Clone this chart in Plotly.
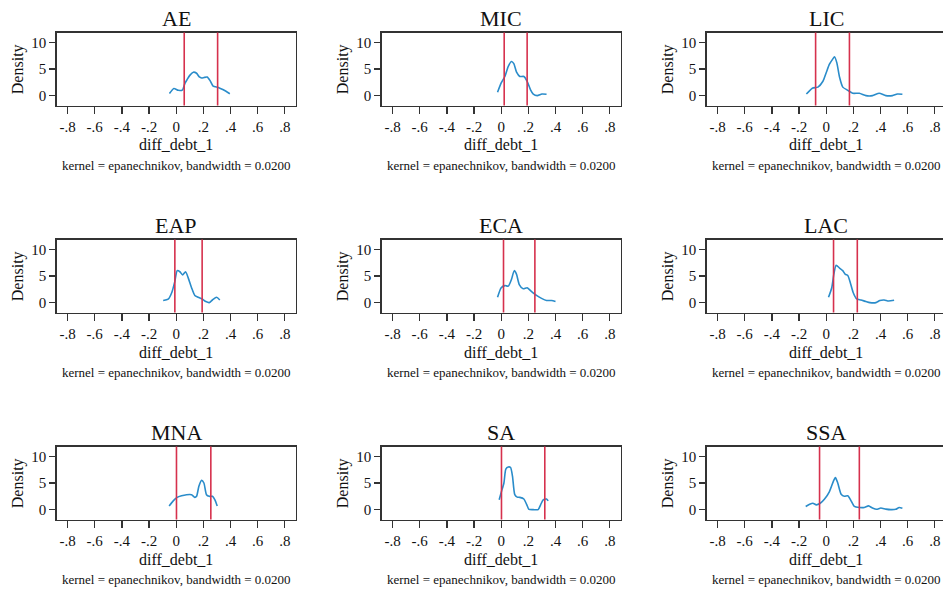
import plotly.graph_objects as go

# ---------------- data ----------------
regions = ["AE", "MIC", "LIC", "EAP", "ECA", "LAC", "MNA", "SA", "SSA"]

ae_x = [-0.050, -0.017, 0.015, 0.047, 0.064, 0.080, 0.100, 0.126, 0.150, 0.170, 0.187, 0.205, 0.228, 0.250, 0.272, 0.310, 0.347, 0.395]
ae_y = [0.40, 1.35, 1.00, 1.10, 2.30, 3.00, 3.80, 4.40, 4.20, 3.50, 3.30, 3.40, 3.50, 2.80, 1.80, 1.55, 1.10, 0.35]

mic_x = [-0.027, 0.000, 0.027, 0.052, 0.076, 0.093, 0.113, 0.137, 0.167, 0.191, 0.216, 0.236, 0.265, 0.300, 0.334]
mic_y = [0.64, 2.40, 3.60, 5.50, 6.40, 6.00, 4.40, 3.60, 3.60, 2.70, 1.10, 0.30, 0.00, 0.30, 0.25]

lic_x = [-0.146, -0.102, -0.061, -0.024, 0.000, 0.024, 0.049, 0.061, 0.078, 0.098, 0.122, 0.159, 0.195, 0.244, 0.293, 0.341, 0.390, 0.439, 0.488, 0.524, 0.561]
lic_y = [0.30, 1.40, 1.60, 2.70, 4.30, 5.90, 6.90, 7.30, 6.20, 3.50, 1.60, 1.00, 0.45, 0.45, 0.00, 0.00, 0.45, 0.00, 0.00, 0.30, 0.25]

eap_x = [-0.096, -0.059, -0.034, -0.010, 0.007, 0.027, 0.047, 0.069, 0.088, 0.113, 0.137, 0.162, 0.194, 0.218, 0.243, 0.267, 0.297, 0.321]
eap_y = [0.40, 0.64, 1.80, 4.00, 6.00, 5.80, 5.20, 5.80, 4.70, 2.80, 1.35, 1.00, 0.64, 0.20, 0.00, 0.50, 1.00, 0.50]

eca_x = [-0.027, 0.000, 0.027, 0.052, 0.076, 0.096, 0.113, 0.133, 0.162, 0.191, 0.223, 0.260, 0.297, 0.334, 0.371, 0.400]
eca_y = [1.00, 2.80, 3.20, 3.10, 4.40, 6.00, 5.30, 3.40, 2.60, 2.80, 2.10, 1.35, 0.80, 0.40, 0.40, 0.20]

lac_x = [0.017, 0.041, 0.056, 0.073, 0.098, 0.122, 0.141, 0.159, 0.178, 0.200, 0.224, 0.256, 0.293, 0.322, 0.366, 0.395, 0.427, 0.459, 0.500]
lac_y = [1.00, 2.80, 5.30, 7.00, 6.50, 6.00, 5.30, 5.10, 3.70, 1.80, 0.70, 0.50, 0.20, 0.00, 0.00, 0.40, 0.50, 0.30, 0.45]

mna_x = [-0.052, -0.022, 0.007, 0.039, 0.076, 0.113, 0.137, 0.150, 0.167, 0.187, 0.204, 0.223, 0.243, 0.267, 0.285, 0.302]
mna_y = [0.70, 1.65, 2.30, 2.60, 2.80, 2.80, 2.30, 2.50, 4.40, 5.50, 5.00, 2.80, 2.50, 2.50, 1.85, 0.70]

sa_x = [-0.015, 0.002, 0.020, 0.034, 0.052, 0.069, 0.083, 0.100, 0.118, 0.137, 0.167, 0.187, 0.204, 0.236, 0.272, 0.290, 0.309, 0.334, 0.346]
sa_y = [1.85, 3.40, 5.00, 7.60, 8.00, 7.90, 6.30, 2.80, 2.35, 2.30, 2.00, 1.00, 0.06, 0.00, 0.00, 0.90, 1.85, 2.00, 1.65]

ssa_x = [-0.151, -0.122, -0.098, -0.073, -0.044, -0.012, 0.024, 0.054, 0.068, 0.085, 0.110, 0.134, 0.159, 0.183, 0.207, 0.244, 0.280, 0.312, 0.341, 0.371, 0.402, 0.439, 0.476, 0.512, 0.537, 0.561]
ssa_y = [0.60, 1.00, 1.20, 0.90, 1.20, 2.00, 3.40, 5.40, 6.00, 5.00, 2.90, 2.50, 2.60, 1.65, 0.60, 0.40, 0.40, 0.70, 0.30, 0.06, 0.30, 0.10, 0.00, 0.06, 0.40, 0.25]

series_x = [ae_x, mic_x, lic_x, eap_x, eca_x, lac_x, mna_x, sa_x, ssa_x]
series_y = [ae_y, mic_y, lic_y, eap_y, eca_y, lac_y, mna_y, sa_y, ssa_y]

lower_lines = [0.059, 0.022, -0.078, -0.010, 0.017, 0.054, 0.002, 0.002, -0.049]
upper_lines = [0.305, 0.191, 0.171, 0.191, 0.248, 0.229, 0.255, 0.321, 0.244]

x_tick_vals = [-0.8, -0.6, -0.4, -0.2, 0, 0.2, 0.4, 0.6, 0.8]
x_tick_labels = ["-.8", "-.6", "-.4", "-.2", "0", ".2", ".4", ".6", ".8"]
y_tick_vals = [0, 5, 10]
y_tick_labels = ["0", "5", "10"]

x_title = "diff_debt_1"
y_title = "Density"
note_text = "kernel = epanechnikov, bandwidth = 0.0200"

# ---------------- layout ----------------
W, H = 943, 592
FONT = "Liberation Serif"
BLUE = "#2a8cca"
RED = "#d6314d"
AXC = "#333333"

col_px = [(56.7, 295.7), (381.7, 620.7), (706.7, 943.0)]
row_px = [(32.5, 105.5), (239.5, 312.5), (446.5, 519.5)]
px_per_unit = 135.8
x_lo = -0.88

fig = go.Figure()
annotations = []
for i, name in enumerate(regions):
    r, c = divmod(i, 3)
    n = i + 1
    xa = "xaxis" if n == 1 else f"xaxis{n}"
    ya = "yaxis" if n == 1 else f"yaxis{n}"
    xr = "x" if n == 1 else f"x{n}"
    yr = "y" if n == 1 else f"y{n}"
    l, rr = col_px[c]
    t, b = row_px[r]
    x_hi = x_lo + (rr - l) / px_per_unit
    fig.update_layout(**{
        xa: dict(domain=[l / W, rr / W], anchor=yr, range=[x_lo, x_hi],
                 tickvals=x_tick_vals, ticktext=x_tick_labels,
                 ticks="outside", ticklen=7, tickwidth=1.3, tickcolor=AXC,
                 showline=True, linecolor=AXC, linewidth=1.5, mirror=True,
                 showgrid=False, zeroline=False,
                 tickfont=dict(family=FONT, size=15, color="#111")),
        ya: dict(domain=[1 - b / H, 1 - t / H], anchor=xr, range=[-1.85, 11.85],
                 tickvals=y_tick_vals, ticktext=y_tick_labels,
                 ticks="outside", ticklen=6, tickwidth=1.3, tickcolor=AXC,
                 showline=True, linecolor=AXC, linewidth=1.5,
                 mirror=(c != 2),
                 showgrid=False, zeroline=False,
                 tickfont=dict(family=FONT, size=15, color="#111")),
    })
    fig.add_trace(go.Scatter(x=series_x[i], y=series_y[i], mode="lines",
                             line=dict(color=BLUE, width=1.6, shape="spline", smoothing=0.6),
                             xaxis=xr, yaxis=yr, showlegend=False, hoverinfo="skip"))
    for v in (lower_lines[i], upper_lines[i]):
        fig.add_shape(type="line", xref=xr, yref=f"{yr} domain", x0=v, x1=v, y0=0, y1=1,
                      line=dict(color=RED, width=1.6))
    annotations += [
        dict(text=name, xref=xr, yref=f"{yr} domain", x=0, y=1, yshift=14,
             xanchor="center", yanchor="middle", showarrow=False,
             font=dict(family=FONT, size=22, color="#111")),
        dict(text=y_title, xref=f"{xr} domain", yref=f"{yr} domain", x=0, y=0.5,
             xshift=-38.5, textangle=-90, xanchor="center", yanchor="middle",
             showarrow=False, font=dict(family=FONT, size=16, color="#111")),
        dict(text=x_title, xref=xr, yref=f"{yr} domain", x=0, y=0, yshift=-39.5,
             xanchor="center", yanchor="middle", showarrow=False,
             font=dict(family=FONT, size=16, color="#111")),
        dict(text=note_text, xref=xr, yref=f"{yr} domain", x=0, y=0, yshift=-60,
             xanchor="center", yanchor="middle", showarrow=False,
             font=dict(family=FONT, size=13, color="#111")),
    ]

fig.update_layout(width=W, height=H, margin=dict(l=0, r=0, t=0, b=0),
                  paper_bgcolor="white", plot_bgcolor="white",
                  annotations=annotations, showlegend=False)
fig.write_html("out.html", config={"displayModeBar": False, "staticPlot": True},
               post_script="document.body.style.margin='0';document.body.style.overflow='hidden';")
